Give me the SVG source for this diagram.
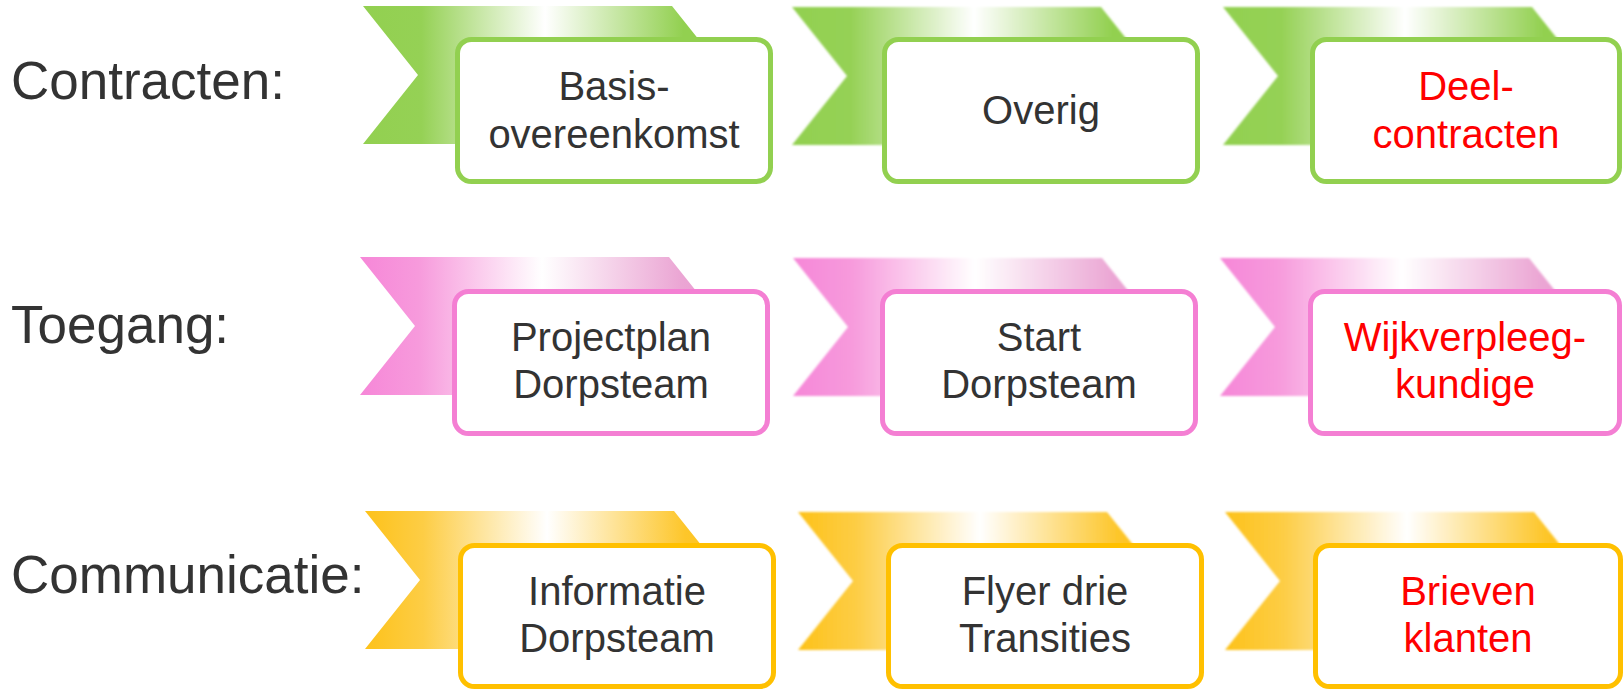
<svg xmlns="http://www.w3.org/2000/svg" width="1623" height="689" viewBox="0 0 1623 689">
<defs>
<linearGradient id="gG" x1="0" y1="0" x2="1" y2="0">
<stop offset="0" stop-color="#92d050"/><stop offset="0.16" stop-color="#95d155"/><stop offset="0.5" stop-color="#ffffff"/><stop offset="0.88" stop-color="#92d050"/><stop offset="1" stop-color="#92d050"/>
</linearGradient>
<linearGradient id="gP" x1="0" y1="0" x2="1" y2="0">
<stop offset="0" stop-color="#f687d8"/><stop offset="0.16" stop-color="#f79adc"/><stop offset="0.5" stop-color="#ffffff"/><stop offset="0.88" stop-color="#eba6d4"/><stop offset="1" stop-color="#e99ad0"/>
</linearGradient>
<linearGradient id="gY" x1="0" y1="0" x2="1" y2="0">
<stop offset="0" stop-color="#fdc21a"/><stop offset="0.16" stop-color="#fdcd45"/><stop offset="0.5" stop-color="#ffffff"/><stop offset="0.88" stop-color="#fdc62a"/><stop offset="1" stop-color="#fdc21a"/>
</linearGradient>
<filter id="soft" x="-5%" y="-5%" width="110%" height="110%"><feGaussianBlur stdDeviation="0.9"/></filter>
<path id="chev" d="M0,0 L309,0 L364,69 L309,138 L0,138 L55,69 Z"/>
</defs>
<style>
.lbl{font-family:"Liberation Sans",Arial,sans-serif;font-size:53px;fill:#333333}
.t{font-family:"Liberation Sans",Arial,sans-serif;font-size:40px;fill:#333333;text-anchor:middle}
.r{fill:#ff0000}
.box{fill:#ffffff;stroke-width:5}
.bg{stroke:#92d050}.bp{stroke:#f47fd3}.by{stroke:#ffc000}
</style>

<g id="labels">
<text class="lbl" x="11" y="99">Contracten:</text>
<text class="lbl" x="11" y="343">Toegang:</text>
<text class="lbl" x="11" y="593">Communicatie:</text>
</g>

<g id="connectors"></g>

<!-- Row 1 -->
<g id="c1">
<use href="#chev" x="363" y="6" fill="url(#gG)"/>
<rect class="box bg" x="457.5" y="39.5" width="313" height="142" rx="14"/>
<text class="t" x="614" y="100">Basis-</text>
<text class="t" x="614" y="148">overeenkomst</text>
</g>
<g id="c2">
<use href="#chev" x="792" y="7" fill="url(#gG)" filter="url(#soft)"/>
<rect class="box bg" x="884.5" y="39.5" width="313" height="142" rx="14"/>
<text class="t" x="1041" y="124">Overig</text>
</g>
<g id="c3">
<use href="#chev" x="1223" y="7" fill="url(#gG)" filter="url(#soft)"/>
<rect class="box bg" x="1312.5" y="39.5" width="307" height="142" rx="14"/>
<text class="t r" x="1466" y="100">Deel-</text>
<text class="t r" x="1466" y="148">contracten</text>
</g>

<!-- Row 2 -->
<g id="t1">
<use href="#chev" x="360" y="257" fill="url(#gP)"/>
<rect class="box bp" x="454.5" y="291.5" width="313" height="142" rx="14"/>
<text class="t" x="611" y="351">Projectplan</text>
<text class="t" x="611" y="398">Dorpsteam</text>
</g>
<g id="t2">
<use href="#chev" x="793" y="258" fill="url(#gP)" filter="url(#soft)"/>
<rect class="box bp" x="882.5" y="291.5" width="313" height="142" rx="14"/>
<text class="t" x="1039" y="351">Start</text>
<text class="t" x="1039" y="398">Dorpsteam</text>
</g>
<g id="t3">
<use href="#chev" x="1220" y="258" fill="url(#gP)" filter="url(#soft)"/>
<rect class="box bp" x="1310.5" y="291.5" width="309" height="142" rx="14"/>
<text class="t r" x="1465" y="351">Wijkverpleeg-</text>
<text class="t r" x="1465" y="398">kundige</text>
</g>

<!-- Row 3 -->
<g id="m1">
<use href="#chev" x="365" y="511" fill="url(#gY)"/>
<rect class="box by" x="460.5" y="545.5" width="313" height="141" rx="14"/>
<text class="t" x="617" y="605">Informatie</text>
<text class="t" x="617" y="652">Dorpsteam</text>
</g>
<g id="m2">
<use href="#chev" x="798" y="512" fill="url(#gY)" filter="url(#soft)"/>
<rect class="box by" x="888.5" y="545.5" width="313" height="141" rx="14"/>
<text class="t" x="1045" y="605">Flyer drie</text>
<text class="t" x="1045" y="652">Transities</text>
</g>
<g id="m3">
<use href="#chev" x="1225" y="512" fill="url(#gY)" filter="url(#soft)"/>
<rect class="box by" x="1315.5" y="545.5" width="305" height="141" rx="14"/>
<text class="t r" x="1468" y="605">Brieven</text>
<text class="t r" x="1468" y="652">klanten</text>
</g>
</svg>
